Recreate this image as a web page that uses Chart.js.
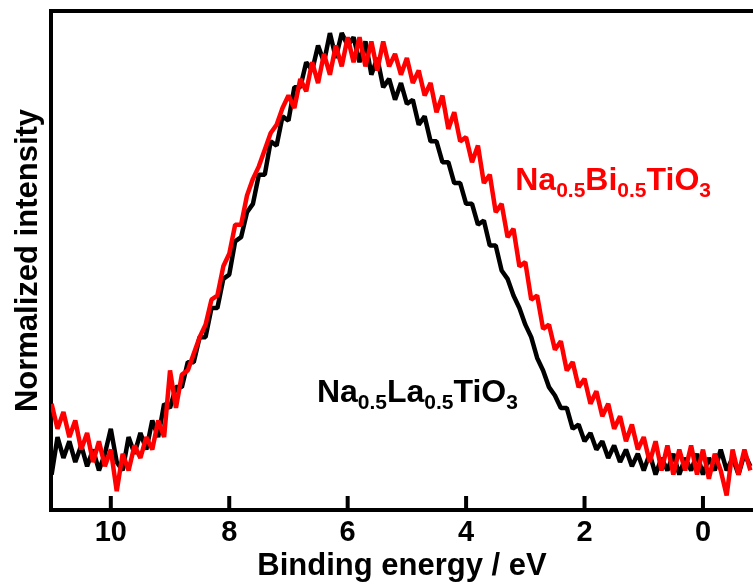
<!DOCTYPE html>
<html>
<head>
<meta charset="utf-8">
<script src="https://cdn.jsdelivr.net/npm/chart.js@4.4.0/dist/chart.umd.min.js"></script>
<style>
  body { margin: 0; background: #fff; }
  canvas { display: block; }
</style>
</head>
<body>
<canvas id="xps" width="753" height="587"></canvas>
<script>
  // binding energy grid (eV), high -> low
  var energy = [
    11.0, 10.9, 10.8, 10.7, 10.6, 10.5, 10.4, 10.3, 10.2, 10.1,
    10.0, 9.9, 9.8, 9.7, 9.6, 9.5, 9.4, 9.3, 9.2, 9.1,
    9.0, 8.9, 8.8, 8.7, 8.6, 8.5, 8.4, 8.3, 8.2, 8.1,
    8.0, 7.9, 7.8, 7.7, 7.6, 7.5, 7.4, 7.3, 7.2, 7.1,
    7.0, 6.9, 6.8, 6.7, 6.6, 6.5, 6.4, 6.3, 6.2, 6.1,
    6.0, 5.9, 5.8, 5.7, 5.6, 5.5, 5.4, 5.3, 5.2, 5.1,
    5.0, 4.9, 4.8, 4.7, 4.6, 4.5, 4.4, 4.3, 4.2, 4.1,
    4.0, 3.9, 3.8, 3.7, 3.6, 3.5, 3.4, 3.3, 3.2, 3.1,
    3.0, 2.9, 2.8, 2.7, 2.6, 2.5, 2.4, 2.3, 2.2, 2.1,
    2.0, 1.9, 1.8, 1.7, 1.6, 1.5, 1.4, 1.3, 1.2, 1.1,
    1.0, 0.9, 0.8, 0.7, 0.6, 0.5, 0.4, 0.3, 0.2, 0.1,
    0.0, -0.1, -0.2, -0.3, -0.4, -0.5, -0.6, -0.7, -0.8
  ];

  // Na0.5La0.5TiO3, normalized
  var nltIntensity = [
    -0.04, 0.05, 0.00, 0.04, -0.01, 0.03, -0.02, 0.02, -0.03, 0.01,
    0.07, -0.01, -0.03, 0.05, 0.01, 0.06, 0.02, 0.09, 0.05, 0.13,
    0.12, 0.17, 0.17, 0.23, 0.23, 0.29, 0.29, 0.36, 0.36, 0.43,
    0.44, 0.52, 0.53, 0.59, 0.61, 0.68, 0.68, 0.76, 0.75, 0.82,
    0.81, 0.89, 0.89, 0.95, 0.93, 0.99, 0.95, 1.02, 0.96, 1.02,
    0.99, 1.01, 0.95, 1.00, 0.92, 0.96, 0.89, 0.91, 0.86, 0.90,
    0.85, 0.86, 0.80, 0.82, 0.76, 0.76, 0.71, 0.71, 0.66, 0.66,
    0.61, 0.61, 0.56, 0.57, 0.51, 0.51, 0.45, 0.43, 0.39, 0.36,
    0.32, 0.29, 0.24, 0.21, 0.17, 0.15, 0.12, 0.12, 0.07, 0.08,
    0.04, 0.06, 0.02, 0.04, 0.00, 0.03, -0.01, 0.02, -0.02, 0.01,
    -0.03, 0.01, -0.04, 0.00, -0.03, 0.01, -0.04, 0.00, -0.03, 0.01,
    -0.04, 0.00, -0.03, 0.02, -0.03, 0.00, -0.04, 0.01, -0.02
  ];

  // Na0.5Bi0.5TiO3, normalized
  var nbtIntensity = [
    0.13, 0.07, 0.11, 0.05, 0.09, 0.02, 0.06, -0.01, 0.04, -0.02,
    0.02, -0.08, 0.01, -0.03, 0.03, 0.00, 0.05, 0.02, 0.09, 0.05,
    0.21, 0.12, 0.20, 0.21, 0.25, 0.29, 0.32, 0.38, 0.39, 0.46,
    0.49, 0.56, 0.56, 0.63, 0.67, 0.70, 0.74, 0.78, 0.80, 0.84,
    0.87, 0.84, 0.91, 0.88, 0.95, 0.90, 0.97, 0.92, 0.99, 0.94,
    1.01, 0.95, 1.01, 0.94, 1.00, 0.93, 1.00, 0.94, 0.97, 0.92,
    0.96, 0.90, 0.93, 0.87, 0.90, 0.83, 0.87, 0.79, 0.83, 0.76,
    0.77, 0.71, 0.75, 0.66, 0.68, 0.59, 0.61, 0.53, 0.55, 0.46,
    0.47, 0.38, 0.39, 0.31, 0.32, 0.26, 0.28, 0.21, 0.23, 0.17,
    0.19, 0.13, 0.16, 0.10, 0.13, 0.07, 0.10, 0.04, 0.08, 0.02,
    0.05, -0.01, 0.04, -0.03, 0.03, -0.04, 0.02, -0.03, 0.03, -0.04,
    0.02, -0.05, 0.01, -0.03, -0.09, 0.02, -0.04, 0.02, -0.03
  ];

  var xTicks = [10, 8, 6, 4, 2, 0];

  var FONT = "'Liberation Sans', Arial, Helvetica, sans-serif";

  function toPoints(ys) {
    return energy.map(function (e, i) { return { x: e, y: ys[i] }; });
  }

  // chemical formula with subscripts, e.g. Na0.5Bi0.5TiO3
  function drawFormula(ctx, parts, x, y, color) {
    ctx.save();
    ctx.fillStyle = color;
    ctx.textBaseline = 'alphabetic';
    ctx.textAlign = 'left';
    parts.forEach(function (p) {
      if (p[1]) {
        ctx.font = 'bold 21px ' + FONT;
        ctx.fillText(p[0], x, y + 7);
      } else {
        ctx.font = 'bold 32px ' + FONT;
        ctx.fillText(p[0], x, y);
      }
      x += ctx.measureText(p[0]).width;
    });
    ctx.restore();
  }

  var framePlugin = {
    id: 'frame',
    afterDraw: function (chart) {
      var ctx = chart.ctx;
      var area = chart.chartArea;
      var xs = chart.scales.x;
      ctx.save();
      ctx.strokeStyle = '#000';
      ctx.lineWidth = 4;
      // top edge of the box
      ctx.beginPath();
      ctx.moveTo(area.left - 2, area.top);
      ctx.lineTo(area.right, area.top);
      ctx.stroke();
      // inward tick marks
      xTicks.forEach(function (t) {
        var px = xs.getPixelForValue(t);
        ctx.beginPath();
        ctx.moveTo(px, area.bottom);
        ctx.lineTo(px, area.bottom - 14);
        ctx.stroke();
      });
      ctx.restore();

      var ys = chart.scales.y;
      drawFormula(ctx, [['Na', 0], ['0.5', 1], ['Bi', 0], ['0.5', 1], ['TiO', 0], ['3', 1]],
        xs.getPixelForValue(3.17), ys.getPixelForValue(0.643), '#ff0000');
      drawFormula(ctx, [['Na', 0], ['0.5', 1], ['La', 0], ['0.5', 1], ['TiO', 0], ['3', 1]],
        xs.getPixelForValue(6.52), ys.getPixelForValue(0.134), '#000000');
    }
  };

  var ctx = document.getElementById('xps').getContext('2d');
  var chart = new Chart(ctx, {
    type: 'line',
    data: {
      datasets: [{
        label: 'Na0.5Bi0.5TiO3',
        data: toPoints(nbtIntensity),
        borderColor: '#ff0000',
        borderWidth: 4.5,
        borderJoinStyle: 'bevel',
        pointRadius: 0,
        tension: 0
      }, {
        label: 'Na0.5La0.5TiO3',
        data: toPoints(nltIntensity),
        borderColor: '#000000',
        borderWidth: 4.5,
        borderJoinStyle: 'bevel',
        pointRadius: 0,
        tension: 0
      }]
    },
    options: {
      responsive: false,
      animation: false,
      devicePixelRatio: 1,
      layout: { padding: { top: 11, left: 0, right: 0, bottom: 0 } },
      plugins: {
        legend: { display: false },
        tooltip: { enabled: false }
      },
      scales: {
        x: {
          type: 'linear',
          reverse: true,
          min: -0.845,
          max: 11.01,
          afterBuildTicks: function (scale) {
            scale.ticks = xTicks.map(function (v) { return { value: v }; });
          },
          afterFit: function (scale) { scale.height = 77; },
          grid: { display: true, drawOnChartArea: false, drawTicks: false },
          border: { display: true, color: '#000', width: 4 },
          ticks: {
            color: '#000',
            padding: 6,
            font: { family: FONT, size: 29, weight: 'bold' }
          },
          title: {
            display: true,
            text: 'Binding energy / eV',
            color: '#000',
            padding: { top: 0, bottom: 2 },
            font: { family: FONT, size: 31, weight: 'bold' }
          }
        },
        y: {
          min: -0.125,
          max: 1.073,
          afterFit: function (scale) { scale.width = 51; },
          grid: { display: true, drawOnChartArea: false, drawTicks: false },
          border: { display: true, color: '#000', width: 4 },
          ticks: { display: false },
          title: {
            display: true,
            text: 'Normalized intensity',
            color: '#000',
            padding: { top: 10, bottom: 0 },
            font: { family: FONT, size: 31, weight: 'bold' }
          }
        }
      }
    },
    plugins: [framePlugin]
  });
</script>
</body>
</html>
